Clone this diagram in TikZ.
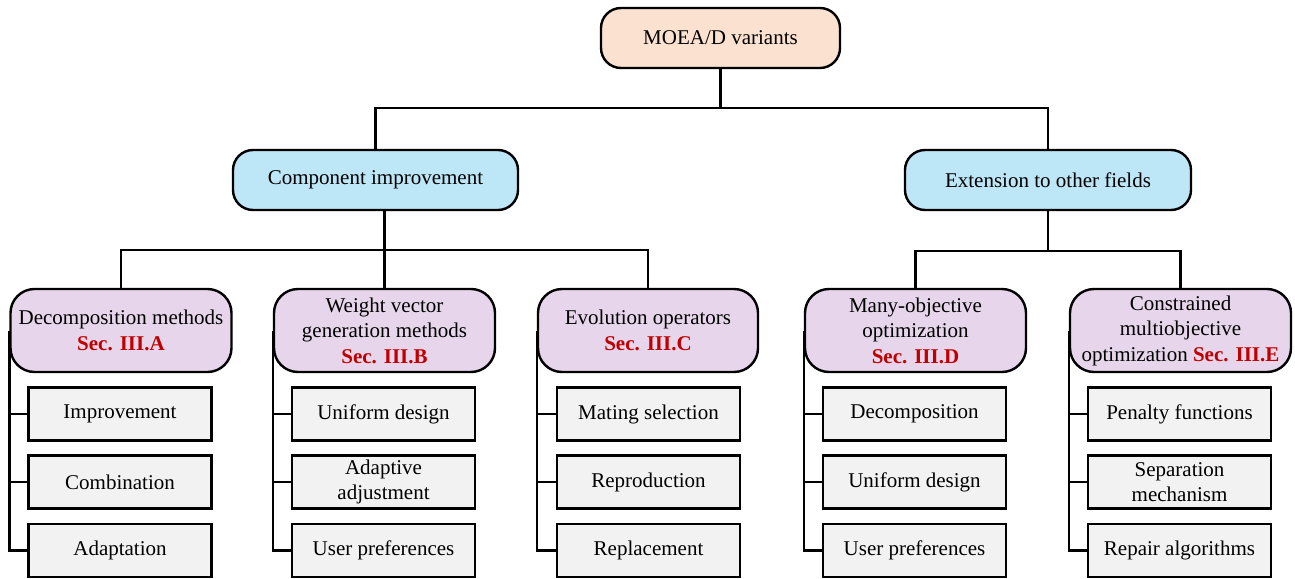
\documentclass[tikz,border=0pt]{standalone}
\usepackage{fontspec}
\setmainfont{Liberation Serif}
\definecolor{peach}{HTML}{FBE1CF}
\definecolor{skyb}{HTML}{BDE6F6}
\definecolor{lilac}{HTML}{E7D6EB}
\definecolor{leafgray}{HTML}{F2F2F2}
\definecolor{secred}{HTML}{C00000}
\newcommand{\secref}[1]{\textcolor{secred}{\textbf{#1}}}
\tikzset{
  box/.style={draw=black, line width=2.4pt, align=center, inner sep=2pt,
    font=\fontsize{21}{25.5}\selectfont},
  topbox/.style={box, fill=peach, rounded corners=20pt, minimum width=239pt, minimum height=60pt},
  midbox/.style={box, fill=skyb, rounded corners=20pt, minimum width=285pt, minimum height=60pt},
  catbox/.style={box, fill=lilac, rounded corners=24pt, minimum width=221pt, minimum height=83pt},
  leafbox/.style={box, fill=leafgray, minimum width=183pt, minimum height=53pt},
  conn/.style={draw=black, line width=2.4pt}
}
\begin{document}
\begin{tikzpicture}[x=1pt,y=-1pt]
\useasboundingbox (0,0) rectangle (1295,578);
% connector coordinates
\coordinate (busA) at (720.5,108);
\coordinate (busB) at (384.5,250);
\coordinate (busC) at (1048,251);
% nodes (positions)
\path
  (720.5,38) coordinate (ptop)
  (375.5,180) coordinate (pcomp)
  (1048,180) coordinate (pext);
% draw connectors first
\node[topbox] (top) at (ptop) {MOEA/D variants};
\node[midbox] (comp) at (pcomp) {Component improvement};
\node[midbox, minimum width=286pt] (ext) at (pext) {Extension to other fields};

\node[catbox] (d1) at (121,330.5) {Decomposition methods\\\secref{Sec. III.A}};
\node[catbox] (d2) at (384.5,330.5) {Weight vector\\generation methods\\\secref{Sec. III.B}};
\node[catbox, minimum width=220pt] (d3) at (648,330.5) {Evolution operators\\\secref{Sec. III.C}};
\node[catbox] (d4) at (915.5,330.5) {Many-objective\\optimization\\\secref{Sec. III.D}};
\node[catbox] (d5) at (1180.5,330.5) {Constrained\\multiobjective\\optimization \secref{Sec. III.E}};

\node[leafbox] (l11) at (120,414) {Improvement};
\node[leafbox] (l12) at (120,482) {Combination};
\node[leafbox] (l13) at (120,550.5) {Adaptation};

\node[leafbox] (l21) at (383.5,414) {Uniform design};
\node[leafbox] (l22) at (383.5,482) {Adaptive\\adjustment};
\node[leafbox] (l23) at (383.5,550.5) {User preferences};

\node[leafbox] (l31) at (648.5,414) {Mating selection};
\node[leafbox] (l32) at (648.5,482) {Reproduction};
\node[leafbox] (l33) at (648.5,550.5) {Replacement};

\node[leafbox] (l41) at (914.5,414) {Decomposition};
\node[leafbox] (l42) at (914.5,482) {Uniform design};
\node[leafbox] (l43) at (914.5,550.5) {User preferences};

\node[leafbox] (l51) at (1179.5,414) {Penalty functions};
\node[leafbox] (l52) at (1179.5,482) {Separation\\mechanism};
\node[leafbox] (l53) at (1179.5,550.5) {Repair algorithms};

% level connectors
\draw[conn] (top.south) -- (busA);
\draw[conn] (comp.north) |- (busA) -| (ext.north);
\draw[conn] (comp.south -| d2.north) -- (d2.north);
\draw[conn] (d1.north) |- (busB) -| (d3.north);
\draw[conn] (ext.south) -- (busC);
\draw[conn] (d4.north) |- (busC) -| (d5.north);

% leaf branches
\foreach \c in {1,...,5}{
  \draw[conn] (d\c.west) |- (l\c3.west);
  \draw[conn] (d\c.west |- l\c1.west) -- (l\c1.west);
  \draw[conn] (d\c.west |- l\c2.west) -- (l\c2.west);
}
\end{tikzpicture}
\end{document}
